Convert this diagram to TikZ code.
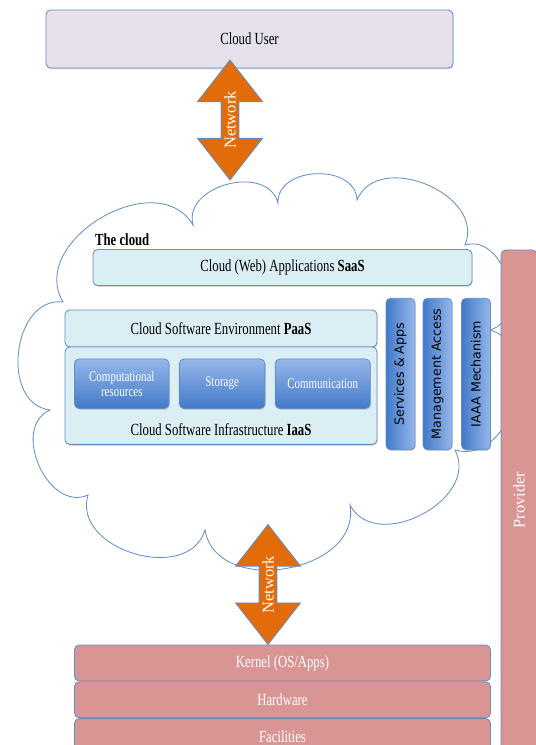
\documentclass[tikz,border=0pt]{standalone}
\usepackage{fontspec}
\setmainfont{Liberation Serif}[FakeStretch=0.75]
\newfontfamily\upserif{Liberation Serif}
\newfontfamily\sidesans{DejaVu Sans}
\usetikzlibrary{positioning,shapes.arrows,shadows}

\definecolor{boxline}{RGB}{99,141,199}
\definecolor{userfill}{RGB}{229,224,236}
\definecolor{layerfill}{RGB}{219,238,243}
\definecolor{provfill}{RGB}{217,149,148}
\definecolor{netorange}{RGB}{227,108,10}
\definecolor{blocktop}{RGB}{150,182,234}
\definecolor{blockbot}{RGB}{66,122,200}

\begin{document}
\begin{tikzpicture}[x=0.03cm, y=-0.03cm,
base/.style = {draw=boxline, line width=0.7pt, rounded corners=4pt, inner sep=2pt},
shadowed/.style = {drop shadow={shadow xshift=0.6pt, shadow yshift=-1.2pt, opacity=0.3}},
user/.style = {base, shadowed, fill=userfill, font=\fontsize{14.5}{16}\selectfont},
layer/.style = {base, shadowed, fill=layerfill, font=\fontsize{14.5}{16}\selectfont},
block/.style = {base, shadowed, top color=blocktop, bottom color=blockbot, text=white,
                align=center, minimum height=1.485cm, font=\fontsize{12.5}{13}\selectfont},
side/.style = {base, shadowed, left color=blockbot, right color=blocktop, rotate=90,
               minimum width=4.545cm, minimum height=0.87cm, font=\sidesans\fontsize{10.8}{12}\selectfont},
provider/.style = {base, fill=provfill, text=white, font=\fontsize{14.5}{16}\selectfont},
netarrow/.style = {double arrow, draw=boxline, line width=0.7pt, fill=netorange, rotate=90,
                   double arrow head extend=0.495cm, double arrow tip angle=76,
                   minimum height=3.6cm, minimum width=1.95cm, inner sep=0pt, text=white,
                   font=\upserif\fontsize{14}{16}\selectfont},
cloudline/.style = {draw=boxline, line width=0.7pt, fill=white},
puff/.style = {bend left=90, looseness=1.2}]

\useasboundingbox (0,0) rectangle (536,745);
\clip (0,0) rectangle (536,745);

% the cloud
\draw[cloudline] (63,302) to[puff] (193,225) to[puff] (278,203) to[puff] (357,200)
  to[puff] (465,245) to[puff] (490,330) to[puff] (455,450) to[puff] (350,505)
  to[puff] (205,530) to[puff] (88,495) to[puff] (50,410) to[puff] (63,302) -- cycle;

% user side
\node[user, minimum width=12.21cm, minimum height=1.74cm] (user) at (249.5,39) {Cloud User};

% service layers
\node[layer, minimum width=11.37cm, minimum height=1.08cm] (saas) at (282.5,267.5)
  {Cloud (Web) Applications \textbf{SaaS}};
\node[anchor=south west, inner sep=0pt, yshift=3pt, xshift=2pt,
      font=\bfseries\fontsize{14.5}{16}\selectfont] (cloudtitle) at (saas.north west) {The cloud};
\node[layer, minimum width=9.36cm, minimum height=1.11cm] (paas) at (221,328.5)
  {Cloud Software Environment \textbf{PaaS}};
\node[layer, minimum width=9.36cm, minimum height=2.92cm,
      label={[name=iaastext, anchor=south, yshift=4pt, font=\fontsize{14.5}{16}\selectfont]south:Cloud Software Infrastructure \textbf{IaaS}}]
  (iaas) at (221,395.7) {};

\node[block, minimum width=2.835cm] (comp) at (121.8,383.7) {Computational\\resources};
\node[block, minimum width=2.565cm, right=0.285cm of comp] (storage) {Storage};
\node[block, minimum width=2.85cm, right=0.285cm of storage] (comm) {Communication};

% management columns
\node[side] (services) at (400.5,374) {Services \& Apps};
\node[side] (mgmt) at (437.5,374) {Management Access};
\node[side] (iaaa) at (476,374) {IAAA Mechanism};

% provider side
\node[provider, rotate=90, minimum width=15cm, minimum height=1.08cm, font=\upserif\fontsize{14}{16}\selectfont]
  (prov) at (519,500) {Provider};
\node[provider, minimum width=12.48cm, minimum height=1.08cm] (kernel) at (282.5,663) {Kernel (OS/Apps)};
\node[provider, minimum width=12.48cm, minimum height=1.08cm, below=0pt of kernel] (hardware) {Hardware};
\node[provider, minimum width=12.48cm, minimum height=1.08cm, below=0pt of hardware] (facilities) {Facilities};

% networks
\node[netarrow] (topnet) at (230,120) {Network};
\node[netarrow] (botnet) at (268,584.5) {Network};
\end{tikzpicture}
\end{document}
